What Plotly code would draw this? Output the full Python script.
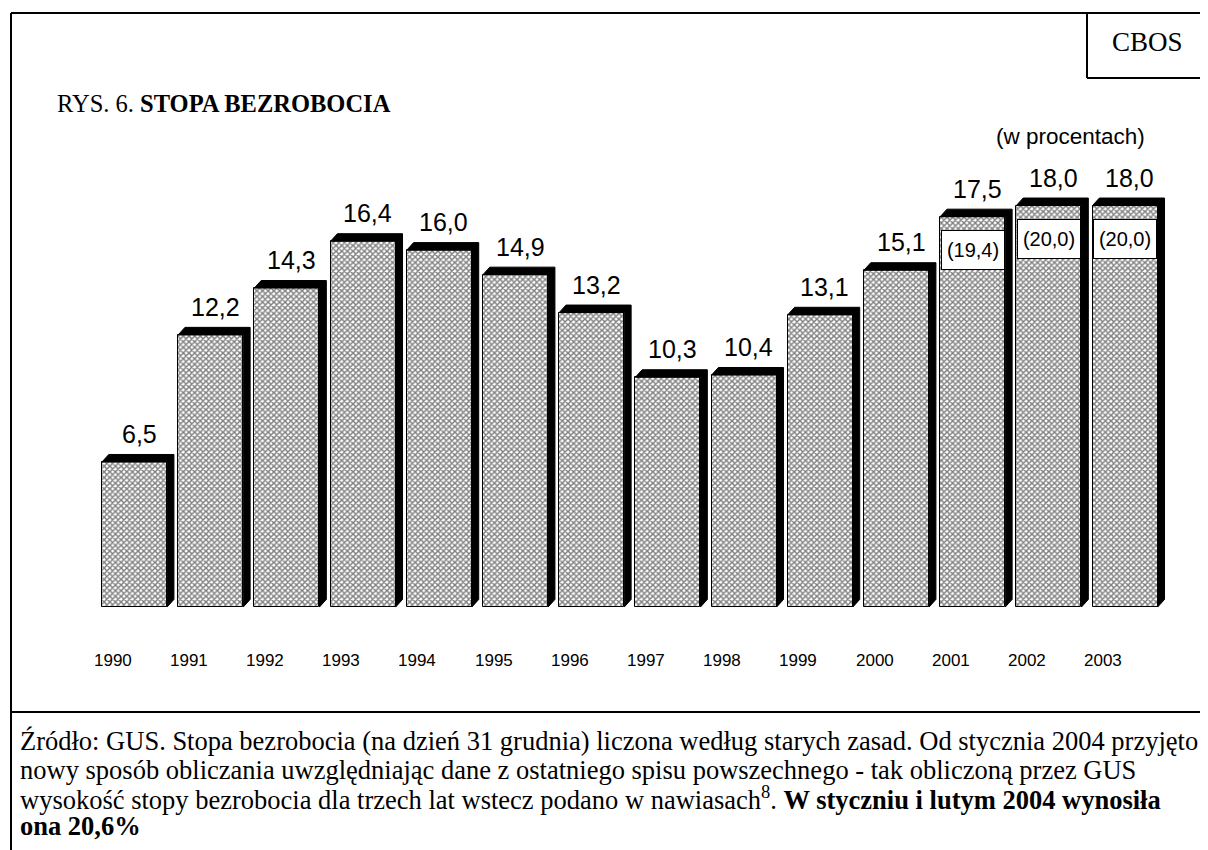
import plotly.graph_objects as go

# dane: stopa bezrobocia (w procentach)
lata = ['1990', '1991', '1992', '1993', '1994', '1995', '1996',
        '1997', '1998', '1999', '2000', '2001', '2002', '2003']
stopa = [6.5, 12.2, 14.3, 16.4, 16.0, 14.9, 13.2, 10.3, 10.4, 13.1, 15.1, 17.5, 18.0, 18.0]
etykiety = ['6,5', '12,2', '14,3', '16,4', '16,0', '14,9', '13,2',
            '10,3', '10,4', '13,1', '15,1', '17,5', '18,0', '18,0']
# nowy sposob liczenia (GUS) dla trzech ostatnich lat
nowe_lata = ['2001', '2002', '2003']
nowe_etykiety = ['(19,4)', '(20,0)', '(20,0)']

SERIF = 'Liberation Serif'
SANS = 'Liberation Sans'

W, H = 1200, 842   # strona ma margines 8px


def px(x):
    # pozycja na ekranie -> wspolrzedne paper
    return (x - 8) / W


def py(y):
    return 1 - (y - 8) / H


pos = list(range(len(lata)))
szer = 0.855     # szerokosc slupka
dx, dy = 0.09, 0.34  # glebokosc efektu 3D

fig = go.Figure()

# czarne krawedzie 3D (gora + prawy bok)
xs, ys = [], []
for i, v in zip(pos, stopa):
    x0, x1 = i - szer / 2, i + szer / 2
    xs += [x0, x0 + dx, x1 + dx, x1 + dx, x1, x1, x0, None]
    ys += [v, v + dy, v + dy, dy, 0, v, v, None]
fig.add_trace(go.Scatter(x=xs, y=ys, mode='lines', fill='toself',
                         fillcolor='black', line=dict(color='black', width=1),
                         hoverinfo='skip', showlegend=False))

# slupki z kratkowanym wypelnieniem
fig.add_trace(go.Bar(x=pos, y=stopa, width=szer,
                     marker=dict(color='white',
                                 line=dict(color='black', width=1),
                                 pattern=dict(shape='x', size=4, solidity=0.6,
                                              fgcolor='black', bgcolor='white')),
                     hoverinfo='skip', showlegend=False))

# wartosci nad slupkami
for i, v, t in zip(pos, stopa, etykiety):
    fig.add_annotation(x=i + 0.06, y=v, text=t, showarrow=False, yshift=28,
                       xanchor='center', yanchor='middle',
                       font=dict(family=SANS, size=25, color='black'))

# wartosci w nawiasach
for rok, t in zip(nowe_lata, nowe_etykiety):
    i = lata.index(rok)
    fig.add_annotation(x=i, y=stopa[i], text=t, showarrow=False, yshift=-33,
                       xanchor='center', yanchor='middle',
                       width=58, height=34, bgcolor='white', bordercolor='black',
                       borderwidth=1, borderpad=2,
                       font=dict(family=SANS, size=20, color='black'))

# lata pod slupkami
for i, rok in zip(pos, lata):
    fig.add_annotation(x=i, y=py(660), yref='paper', text=rok, xshift=-22,
                       xanchor='center', yanchor='middle', showarrow=False,
                       font=dict(family=SANS, size=17, color='black'))

# tytul, opisy
fig.add_annotation(x=px(55), y=py(103), xref='paper', yref='paper',
                   xanchor='left', yanchor='middle', showarrow=False,
                   text='RYS. 6. <b>STOPA BEZROBOCIA</b>',
                   font=dict(family=SERIF, size=24.5, color='black'))
fig.add_annotation(x=px(1147), y=py(42), xref='paper', yref='paper',
                   xanchor='center', yanchor='middle', showarrow=False, text='CBOS',
                   font=dict(family=SERIF, size=27, color='black'))
fig.add_annotation(x=px(1070), y=py(136), xref='paper', yref='paper',
                   xanchor='center', yanchor='middle', showarrow=False,
                   text='(w procentach)',
                   font=dict(family=SANS, size=22.5, color='black'))

# zrodlo - kazda linia osobno
zrodlo = ['Źródło: GUS. Stopa bezrobocia (na dzień 31 grudnia) liczona według starych zasad. '
          'Od stycznia 2004 przyjęto',
          'nowy sposób obliczania uwzględniając dane z ostatniego spisu powszechnego - '
          'tak obliczoną przez GUS',
          'wysokość stopy bezrobocia dla trzech lat wstecz podano w nawiasach<sup>8</sup>. '
          '<b>W styczniu i lutym 2004 wynosiła</b>',
          '<b>ona 20,6%</b>']
linie_y = [741, 770, 798, 826]
for t, yy in zip(zrodlo, linie_y):
    fig.add_annotation(x=px(18), y=py(yy), xref='paper', yref='paper',
                       xanchor='left', yanchor='middle', align='left', showarrow=False,
                       text=t, font=dict(family=SERIF, size=26.5, color='black'))

# ramki
linia = dict(color='black', width=2)
fig.add_shape(type='line', xref='paper', yref='paper', x0=px(11), x1=1.01,
              y0=py(13), y1=py(13), line=linia)
fig.add_shape(type='line', xref='paper', yref='paper', x0=px(11), x1=px(11),
              y0=-0.01, y1=py(13), line=linia)
fig.add_shape(type='line', xref='paper', yref='paper', x0=px(11), x1=1.01,
              y0=py(712), y1=py(712), line=linia)
fig.add_shape(type='line', xref='paper', yref='paper', x0=px(1087), x1=px(1087),
              y0=py(78), y1=py(13), line=linia)
fig.add_shape(type='line', xref='paper', yref='paper', x0=px(1087), x1=1.01,
              y0=py(78), y1=py(78), line=linia)

fig.update_layout(width=W, height=H, margin=dict(l=0, r=0, t=0, b=0),
                  paper_bgcolor='white', plot_bgcolor='white',
                  bargap=0, showlegend=False)
# skala: slupek 1990 na srodku x=134.5, 76.2 px na rok; zero na y=607, 22.3 px na punkt
fig.update_xaxes(range=[-(134.5 - 8) / 76.2, (W - 126.5) / 76.2], visible=False)
fig.update_yaxes(range=[-(H - 599) / 22.3, 599 / 22.3], visible=False)

fig.write_html('out.html')
